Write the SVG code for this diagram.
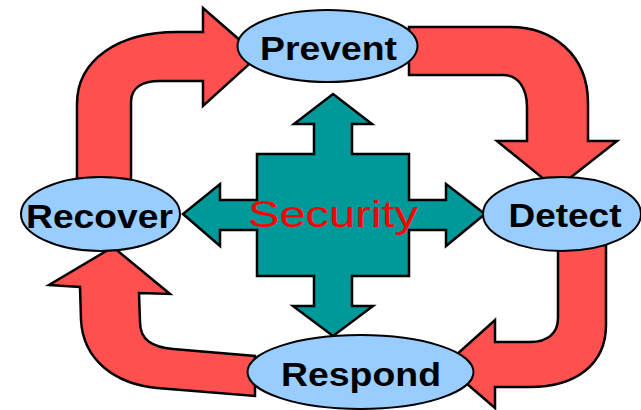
<svg xmlns="http://www.w3.org/2000/svg" width="641" height="410" viewBox="0 0 641 410">
  <style>
    .flow { fill: #FF5050; stroke: #000; stroke-width: 2.5; stroke-linejoin: miter; }
    .hub { fill: #009999; stroke: #000; stroke-width: 2.5; stroke-linejoin: miter; }
    .stage ellipse { fill: #99CCFF; stroke: #000; stroke-width: 2; }
    .stage text { font-family: "Liberation Sans", Arial, sans-serif; font-weight: bold; font-size: 34px; fill: #000; }
    .core { font-family: "Liberation Sans", Arial, sans-serif; font-size: 36px; fill: #FF0000; }
  </style>
  <rect width="641" height="410" fill="#fff"/>

  <!-- curved cycle arrows -->
  <g id="connectors">
    <!-- Recover to Prevent -->
    <path class="flow" d="M77,185 L77,104 C77,60 118,32 177,32 L203,32 L203,8 L258,56 L203,106 L203,81 L160,81 C142,81 131,88 131,102 L131,185 Z"/>
    <!-- Prevent to Detect -->
    <path class="flow" d="M409,27 L510,27 C553,27 588,55 588,103 L588,141 L617,141 L556,189 L497,141 L527,141 L527,107 C527,88 518,75 503,75 L409,75 Z"/>
    <!-- Detect to Respond -->
    <path class="flow" d="M558,245 L606,245 L606,325 C606,365 575,387 530,387 L495,387 L495,408 L445,365 L495,320 L495,342 L530,342 C548,342 558,333 558,318 Z"/>
    <!-- Respond to Recover -->
    <path class="flow" d="M255,356 L255,396 L157,388 C115,384 83,360 81,320 L80,287 L49,285 L113,247 L170,294 L139,293 L140,322 C140,340 152,347 173,349 Z"/>
  </g>

  <!-- central four-way arrow -->
  <g id="security">
    <polygon class="hub" points="333,94 372,124 352,124 352,154 409,154 409,200 446,200 446,184 485,214 446,246 446,230 409,230 409,276 352,276 352,306 373,306 333,336 293,306 314,306 314,276 257,276 257,230 220,230 220,246 183,214 220,184 220,200 257,200 257,154 314,154 314,124 294,124"/>
    <text class="core" x="248" y="227" textLength="170" lengthAdjust="spacingAndGlyphs">Security</text>
  </g>

  <g id="prevent" class="stage">
    <ellipse cx="327.5" cy="46" rx="90" ry="36"/>
    <text x="260" y="59.5" textLength="137" lengthAdjust="spacingAndGlyphs">Prevent</text>
  </g>

  <g id="detect" class="stage">
    <ellipse cx="562" cy="214" rx="79" ry="37"/>
    <text x="508.5" y="227" textLength="113" lengthAdjust="spacingAndGlyphs">Detect</text>
  </g>

  <g id="respond" class="stage">
    <ellipse cx="360.5" cy="372" rx="113" ry="37"/>
    <text x="281" y="386" textLength="160" lengthAdjust="spacingAndGlyphs">Respond</text>
  </g>

  <g id="recover" class="stage">
    <ellipse cx="100.5" cy="214" rx="79.5" ry="37"/>
    <text x="26" y="227.5" textLength="147" lengthAdjust="spacingAndGlyphs">Recover</text>
  </g>
</svg>
